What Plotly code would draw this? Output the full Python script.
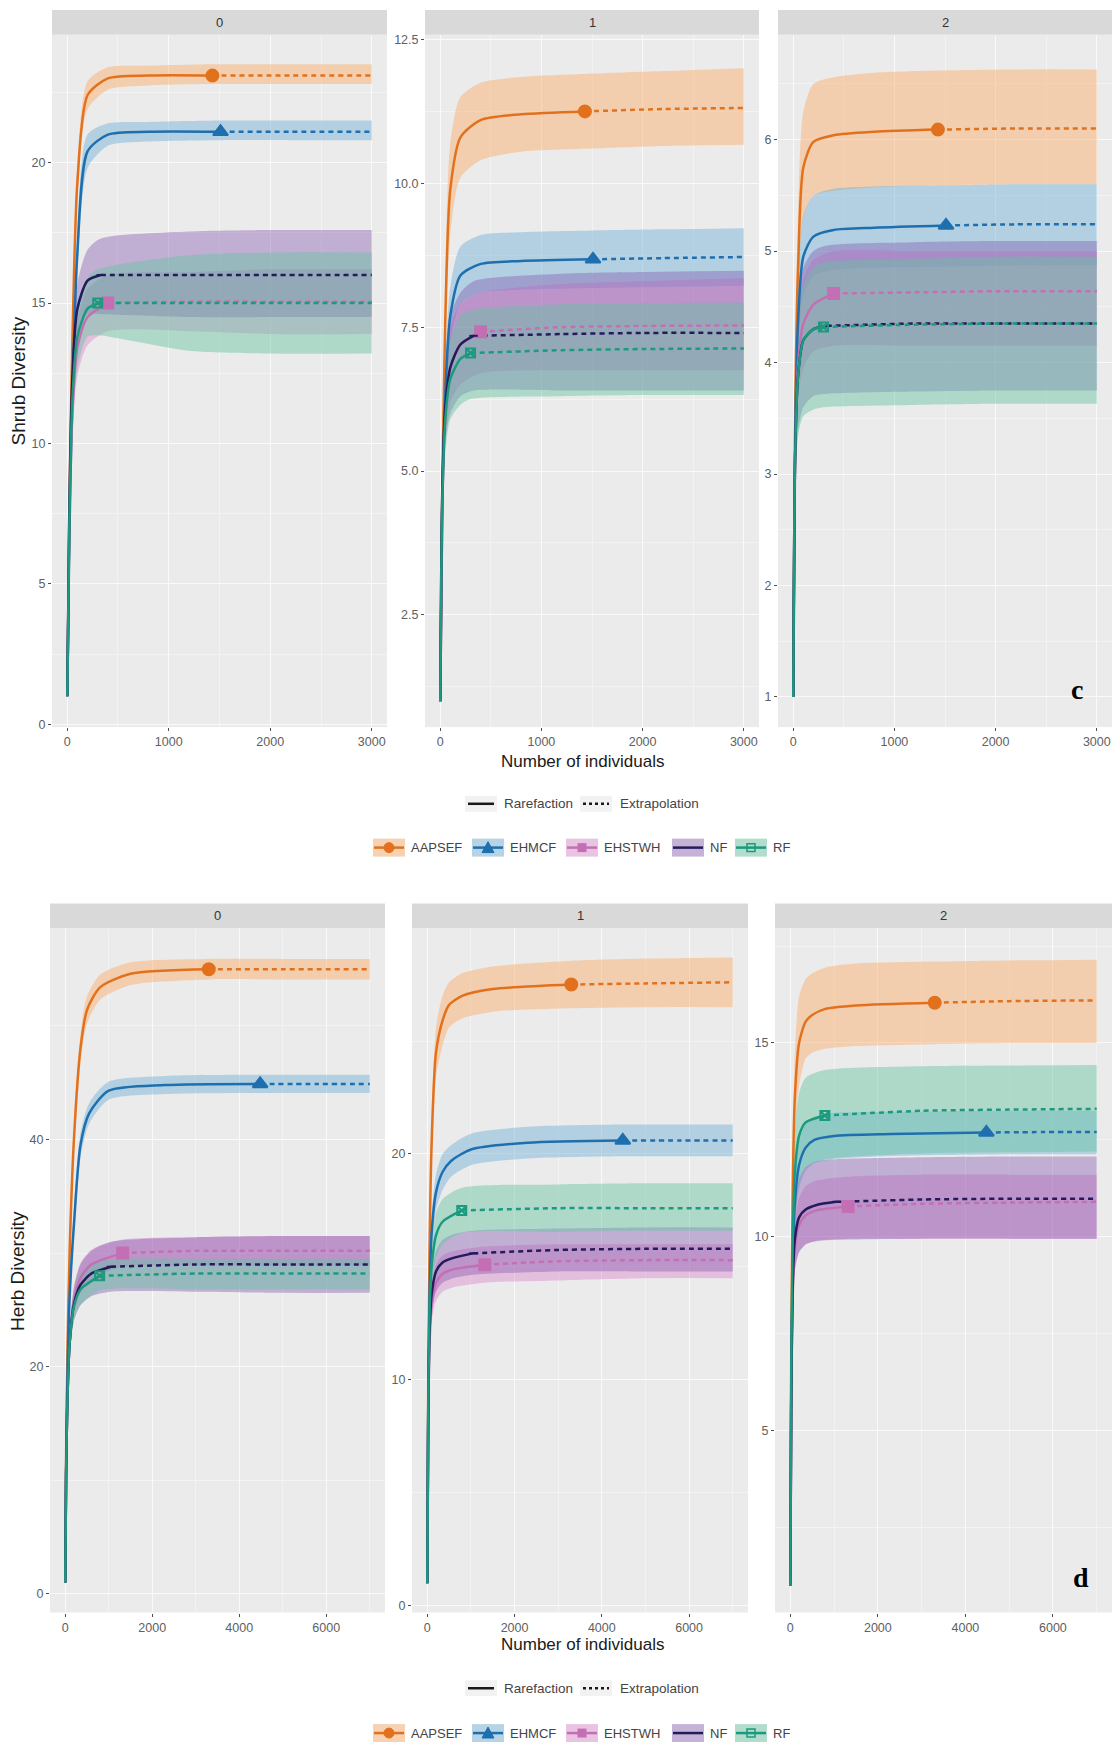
import plotly.graph_objects as go

W, H = 1120, 1753
FONT = "Liberation Sans, Arial, sans-serif"

SITES = ["AAPSEF", "EHMCF", "EHSTWH", "NF", "RF"]
LINE_COLORS = ["#E2711D", "#1F6FAF", "#C46FB4", "#241A5C", "#1C9A7E"]
FILL_COLORS = ["rgba(253,170,100,0.45)", "rgba(110,175,215,0.45)",
               "rgba(215,120,200,0.38)", "rgba(130,85,175,0.40)",
               "rgba(100,195,160,0.45)"]
MARKER_SYMBOLS = ["circle", "triangle-up", "square", "line-ew", "square-x-open"]
MARKER_SIZES = [12, 13, 11, 6, 9]

# ---------------- Shrub layer (figure c) ----------------
SHRUB_N = [1430, 1510, 400, 330, 300]
SHRUB_M = [
    [1, 20, 50, 100, 200, 400, 800, 1430, 2200, 3000],
    [1, 20, 50, 100, 200, 400, 800, 1510, 2200, 3000],
    [1, 20, 50, 100, 200, 400, 1200, 2000, 3000],
    [1, 20, 50, 100, 200, 330, 1200, 2000, 3000],
    [1, 20, 50, 100, 200, 300, 1200, 2000, 3000],
]
SHRUB_Q0_EST = [
    [1, 7.5, 13.5, 19.3, 22.4, 23.0, 23.1, 23.1, 23.1, 23.1],
    [1, 6.5, 11.5, 16.8, 20.4, 21.0, 21.1, 21.1, 21.1, 21.1],
    [1, 7.0, 11.0, 13.4, 14.5, 15.0, 15.05, 15.05, 15.05],
    [1, 7.5, 12.3, 14.8, 15.8, 16.0, 16.0, 16.0, 16.0],
    [1, 7.0, 11.5, 13.8, 14.8, 15.0, 15.0, 15.0, 15.0],
]
SHRUB_Q0_LO = [
    [1, 6.8, 12.7, 18.6, 21.9, 22.6, 22.75, 22.8, 22.8, 22.8],
    [1, 5.8, 10.6, 15.9, 19.8, 20.6, 20.75, 20.8, 20.8, 20.8],
    [1, 6.3, 10.1, 12.4, 13.5, 14.0, 14.0, 13.9, 13.9],
    [1, 6.8, 11.4, 13.9, 14.6, 14.6, 14.5, 14.5, 14.5],
    [1, 6.3, 10.5, 12.7, 13.8, 13.85, 13.3, 13.2, 13.2],
]
SHRUB_Q0_HI = [
    [1, 8.2, 14.3, 20.0, 22.9, 23.4, 23.45, 23.5, 23.5, 23.5],
    [1, 7.2, 12.4, 17.7, 21.0, 21.4, 21.45, 21.5, 21.5, 21.5],
    [1, 7.7, 11.9, 14.4, 15.5, 16.0, 16.1, 16.2, 16.2],
    [1, 8.2, 13.2, 15.7, 16.9, 17.3, 17.55, 17.6, 17.6],
    [1, 7.7, 12.5, 14.9, 15.9, 16.2, 16.7, 16.8, 16.8],
]
SHRUB_Q1_EST = [
    [1, 4.5, 7.6, 9.9, 10.8, 11.1, 11.2, 11.25, 11.29, 11.31],
    [1, 4.3, 6.3, 7.7, 8.4, 8.6, 8.65, 8.68, 8.7, 8.72],
    [1, 4.3, 5.9, 6.8, 7.2, 7.42, 7.5, 7.52, 7.53],
    [1, 4.6, 6.1, 6.8, 7.2, 7.35, 7.38, 7.4, 7.4],
    [1, 4.4, 5.9, 6.6, 6.95, 7.05, 7.1, 7.12, 7.13],
]
SHRUB_Q1_LO = [
    [1, 3.9, 6.9, 9.1, 10.1, 10.4, 10.55, 10.6, 10.65, 10.67],
    [1, 3.9, 5.8, 7.2, 7.9, 8.1, 8.15, 8.18, 8.2, 8.22],
    [1, 4.0, 5.4, 6.2, 6.5, 6.7, 6.75, 6.75, 6.75],
    [1, 4.2, 5.5, 6.0, 6.3, 6.4, 6.4, 6.4, 6.4],
    [1, 4.0, 5.3, 5.9, 6.15, 6.25, 6.3, 6.32, 6.32],
]
SHRUB_Q1_HI = [
    [1, 5.1, 8.3, 10.7, 11.5, 11.75, 11.85, 11.9, 11.95, 12.0],
    [1, 4.7, 6.8, 8.2, 8.9, 9.1, 9.15, 9.18, 9.2, 9.22],
    [1, 4.6, 6.5, 7.5, 7.9, 8.1, 8.25, 8.3, 8.35],
    [1, 5.0, 6.8, 7.7, 8.1, 8.3, 8.43, 8.46, 8.48],
    [1, 4.8, 6.5, 7.3, 7.7, 7.8, 7.9, 7.92, 7.93],
]
SHRUB_Q2_EST = [
    [1, 3.6, 4.9, 5.75, 5.98, 6.04, 6.07, 6.09, 6.1, 6.1],
    [1, 3.4, 4.4, 4.95, 5.13, 5.19, 5.21, 5.23, 5.24, 5.24],
    [1, 3.2, 4.0, 4.35, 4.52, 4.62, 4.63, 4.64, 4.64],
    [1, 3.2, 3.9, 4.2, 4.3, 4.33, 4.35, 4.35, 4.35],
    [1, 3.2, 3.9, 4.2, 4.3, 4.32, 4.34, 4.35, 4.35],
]
SHRUB_Q2_LO = [
    [1, 3.3, 4.5, 5.3, 5.5, 5.54, 5.57, 5.59, 5.6, 5.6],
    [1, 3.2, 4.1, 4.6, 4.78, 4.83, 4.85, 4.86, 4.87, 4.87],
    [1, 3.0, 3.7, 3.95, 4.1, 4.15, 4.15, 4.15, 4.15],
    [1, 2.9, 3.4, 3.6, 3.7, 3.72, 3.74, 3.75, 3.75],
    [1, 2.9, 3.35, 3.52, 3.58, 3.6, 3.62, 3.63, 3.63],
]
SHRUB_Q2_HI = [
    [1, 3.9, 5.4, 6.25, 6.5, 6.56, 6.6, 6.62, 6.63, 6.63],
    [1, 3.6, 4.75, 5.32, 5.5, 5.56, 5.58, 5.59, 5.6, 5.6],
    [1, 3.4, 4.35, 4.75, 4.92, 5.0, 5.0, 5.0, 5.0],
    [1, 3.5, 4.5, 4.85, 5.0, 5.05, 5.08, 5.09, 5.09],
    [1, 3.4, 4.3, 4.7, 4.85, 4.9, 4.93, 4.95, 4.95],
]

# ---------------- Herb layer (figure d) ----------------
HERB_N = [3300, 4480, 1320, 1050, 790]
HERB_M = [
    [1, 20, 50, 100, 200, 350, 500, 800, 1500, 3300, 5000, 7000],
    [1, 20, 50, 100, 200, 350, 550, 1000, 2300, 4480, 5800, 7000],
    [1, 20, 50, 100, 200, 350, 600, 1320, 3000, 5000, 7000],
    [1, 20, 50, 100, 200, 350, 600, 1050, 3000, 5000, 7000],
    [1, 20, 50, 100, 200, 350, 790, 3000, 5000, 7000],
]
HERB_Q0_EST = [
    [1, 12, 21, 30, 40, 48, 51.4, 53.4, 54.6, 55.0, 55.0, 55.0],
    [1, 11, 19, 26, 32.5, 39.5, 42.3, 44.3, 44.8, 44.9, 44.9, 44.9],
    [1, 10.5, 17, 22, 25.8, 27.8, 29.0, 30.0, 30.2, 30.2, 30.2],
    [1, 10.5, 17, 22, 25.5, 27.2, 28.2, 28.8, 29.0, 29.0, 29.0],
    [1, 10.5, 17, 22, 25.3, 26.8, 28.0, 28.2, 28.2, 28.2],
]
HERB_Q0_LO = [
    [1, 11.2, 19.8, 28.6, 38.5, 46.7, 50.2, 52.3, 53.6, 54.1, 54.1, 54.1],
    [1, 10.4, 18, 24.8, 31.2, 38.4, 41.4, 43.5, 44.0, 44.1, 44.1, 44.1],
    [1, 10, 16.2, 21, 24.6, 26.5, 27.7, 28.8, 28.9, 28.9, 28.9],
    [1, 10, 16.2, 20.8, 24, 25.4, 26.2, 26.6, 26.6, 26.5, 26.5],
    [1, 10, 16.2, 21, 24.1, 25.4, 26.7, 26.8, 26.8, 26.8],
]
HERB_Q0_HI = [
    [1, 12.8, 22.2, 31.4, 41.5, 49.3, 52.6, 54.5, 55.6, 55.9, 55.9, 55.9],
    [1, 11.6, 20, 27.2, 33.8, 40.6, 43.2, 45.1, 45.6, 45.7, 45.7, 45.7],
    [1, 11, 17.8, 23, 27, 29.1, 30.3, 31.2, 31.4, 31.5, 31.5],
    [1, 11, 17.8, 23.2, 27, 29, 30.2, 31.0, 31.4, 31.5, 31.5],
    [1, 11, 17.8, 23, 26.5, 28.2, 29.3, 29.5, 29.5, 29.5],
]
HERB_Q1_EST = [
    [1, 9, 15.5, 20.5, 24.5, 25.9, 26.6, 27.0, 27.3, 27.5, 27.55, 27.6],
    [1, 8.5, 13.5, 16.5, 18.3, 19.2, 19.7, 20.2, 20.5, 20.6, 20.6, 20.6],
    [1, 7.5, 11.5, 13.3, 14.3, 14.7, 14.9, 15.1, 15.25, 15.3, 15.3],
    [1, 7.8, 12, 13.8, 14.8, 15.2, 15.4, 15.6, 15.75, 15.8, 15.8],
    [1, 8.2, 12.8, 15.0, 16.4, 17.0, 17.5, 17.6, 17.6, 17.6],
]
HERB_Q1_LO = [
    [1, 8.4, 14.5, 19.3, 23.4, 24.8, 25.6, 26.0, 26.3, 26.45, 26.5, 26.5],
    [1, 8, 12.8, 15.7, 17.5, 18.4, 19.0, 19.5, 19.8, 19.9, 19.9, 19.9],
    [1, 7.1, 10.9, 12.6, 13.5, 13.9, 14.1, 14.3, 14.4, 14.5, 14.5],
    [1, 7.4, 11.3, 13.0, 13.9, 14.3, 14.5, 14.65, 14.8, 14.8, 14.8],
    [1, 7.7, 12.0, 14.0, 15.4, 16.0, 16.5, 16.55, 16.6, 16.6],
]
HERB_Q1_HI = [
    [1, 9.6, 16.5, 21.7, 25.6, 27.0, 27.6, 28.0, 28.3, 28.55, 28.65, 28.7],
    [1, 9, 14.2, 17.3, 19.1, 20.0, 20.4, 20.9, 21.2, 21.3, 21.3, 21.3],
    [1, 7.9, 12.1, 14.0, 15.1, 15.5, 15.7, 15.9, 16.0, 16.0, 16.0],
    [1, 8.2, 12.7, 14.6, 15.7, 16.2, 16.45, 16.6, 16.7, 16.75, 16.75],
    [1, 8.7, 13.6, 16.0, 17.4, 18.0, 18.5, 18.65, 18.7, 18.7],
]
HERB_Q2_EST = [
    [1, 6.5, 10.8, 13.5, 15.0, 15.55, 15.72, 15.88, 15.97, 16.04, 16.08, 16.1],
    [1, 5.8, 9.0, 10.8, 11.85, 12.3, 12.5, 12.6, 12.65, 12.69, 12.7, 12.7],
    [1, 5.5, 8.3, 9.7, 10.3, 10.55, 10.68, 10.78, 10.85, 10.88, 10.9],
    [1, 5.6, 8.5, 9.9, 10.5, 10.7, 10.82, 10.9, 10.96, 10.98, 10.98],
    [1, 6.2, 9.6, 11.6, 12.6, 12.95, 13.13, 13.25, 13.28, 13.3],
]
HERB_Q2_LO = [
    [1, 6.1, 10.0, 12.4, 13.9, 14.6, 14.75, 14.85, 14.92, 14.97, 15.0, 15.0],
    [1, 5.5, 8.5, 10.2, 11.25, 11.7, 11.9, 12.0, 12.08, 12.12, 12.13, 12.13],
    [1, 5.2, 7.8, 9.1, 9.6, 9.8, 9.9, 9.95, 9.95, 9.95, 9.95],
    [1, 5.2, 7.8, 9.1, 9.6, 9.8, 9.88, 9.92, 9.95, 9.95, 9.95],
    [1, 5.8, 8.8, 10.6, 11.5, 11.8, 12.0, 12.15, 12.18, 12.2],
]
HERB_Q2_HI = [
    [1, 6.9, 11.6, 14.6, 16.2, 16.65, 16.8, 16.95, 17.05, 17.1, 17.13, 17.15],
    [1, 6.1, 9.5, 11.4, 12.45, 12.9, 13.1, 13.2, 13.22, 13.25, 13.25, 13.25],
    [1, 5.8, 8.8, 10.3, 11.0, 11.3, 11.45, 11.55, 11.6, 11.6, 11.6],
    [1, 6.0, 9.2, 10.8, 11.5, 11.8, 11.95, 12.0, 12.05, 12.07, 12.07],
    [1, 6.6, 10.4, 12.6, 13.7, 14.1, 14.3, 14.4, 14.42, 14.43],
]

LINETYPE_LABELS = ["Rarefaction", "Extrapolation"]


def fx(px):
    return px / W


def fy(py):
    return 1 - py / H


# Facet geometry in pixels
TOP_X_PX = [(52, 387), (425, 759), (778, 1112)]
TOP_Y_PX = (33, 728)
TOP_STRIP = (8, 33)
BOT_X_PX = [(50, 385), (412, 748), (775, 1112)]
BOT_Y_PX = (930, 1617)
BOT_STRIP = (905, 930)

panels = [
    dict(m=SHRUB_M, n=SHRUB_N, est=SHRUB_Q0_EST, lo=SHRUB_Q0_LO, hi=SHRUB_Q0_HI,
         xpx=TOP_X_PX[0], ypx=TOP_Y_PX, strip=TOP_STRIP, label="0",
         yr=[-0.1, 24.55], yt0=0, ydt=5, ymin=2.5, yfmt="d",
         xr=[-150, 3150], xdt=1000, xmin=500),
    dict(m=SHRUB_M, n=SHRUB_N, est=SHRUB_Q1_EST, lo=SHRUB_Q1_LO, hi=SHRUB_Q1_HI,
         xpx=TOP_X_PX[1], ypx=TOP_Y_PX, strip=TOP_STRIP, label="1",
         yr=[0.55, 12.58], yt0=0, ydt=2.5, ymin=1.25, yfmt=".1f",
         xr=[-150, 3150], xdt=1000, xmin=500),
    dict(m=SHRUB_M, n=SHRUB_N, est=SHRUB_Q2_EST, lo=SHRUB_Q2_LO, hi=SHRUB_Q2_HI,
         xpx=TOP_X_PX[2], ypx=TOP_Y_PX, strip=TOP_STRIP, label="2",
         yr=[0.73, 6.94], yt0=0, ydt=1, ymin=0.5, yfmt="d",
         xr=[-150, 3150], xdt=1000, xmin=500),
    dict(m=HERB_M, n=HERB_N, est=HERB_Q0_EST, lo=HERB_Q0_LO, hi=HERB_Q0_HI,
         xpx=BOT_X_PX[0], ypx=BOT_Y_PX, strip=BOT_STRIP, label="0",
         yr=[-1.65, 58.6], yt0=0, ydt=20, ymin=10, yfmt="d",
         xr=[-350, 7350], xdt=2000, xmin=1000),
    dict(m=HERB_M, n=HERB_N, est=HERB_Q1_EST, lo=HERB_Q1_LO, hi=HERB_Q1_HI,
         xpx=BOT_X_PX[1], ypx=BOT_Y_PX, strip=BOT_STRIP, label="1",
         yr=[-0.3, 29.99], yt0=0, ydt=10, ymin=5, yfmt="d",
         xr=[-350, 7350], xdt=2000, xmin=1000),
    dict(m=HERB_M, n=HERB_N, est=HERB_Q2_EST, lo=HERB_Q2_LO, hi=HERB_Q2_HI,
         xpx=BOT_X_PX[2], ypx=BOT_Y_PX, strip=BOT_STRIP, label="2",
         yr=[0.3, 17.96], yt0=0, ydt=5, ymin=2.5, yfmt="d",
         xr=[-350, 7350], xdt=2000, xmin=1000),
]

fig = go.Figure()
shapes = []
annotations = []
layout_axes = {}
LINE_W = 2.5
DASH = "5px,4px"
SPL = dict(shape="spline", smoothing=0.7)


def note(x, y, text, size=12, color="#444444", xanchor="center", family=FONT, angle=0):
    annotations.append(dict(x=fx(x), y=fy(y), xref="paper", yref="paper", text=text,
                            xanchor=xanchor, yanchor="middle", showarrow=False, textangle=angle,
                            font=dict(family=family, size=size, color=color)))


for i, p in enumerate(panels, start=1):
    xa, ya = f"x{i}", f"y{i}"
    xkey = "xaxis" if i == 1 else f"xaxis{i}"
    ykey = "yaxis" if i == 1 else f"yaxis{i}"
    tickfont = dict(family=FONT, size=12.5, color="#606060")
    layout_axes[xkey] = dict(
        domain=[fx(p["xpx"][0]), fx(p["xpx"][1])], anchor=ya, range=p["xr"],
        tickmode="linear", tick0=0, dtick=p["xdt"], ticks="outside", ticklen=3,
        tickcolor="#4D4D4D", tickfont=tickfont, showgrid=True, gridcolor="#FAFAFA",
        gridwidth=1.1, zeroline=False, showline=False,
        minor=dict(dtick=p["xmin"], tick0=0, showgrid=True, gridcolor="#F3F3F3", gridwidth=0.6),
    )
    layout_axes[ykey] = dict(
        domain=[fy(p["ypx"][1]), fy(p["ypx"][0])], anchor=xa, range=p["yr"],
        tickmode="linear", tick0=p["yt0"], dtick=p["ydt"], tickformat=p["yfmt"],
        ticks="outside", ticklen=3, tickcolor="#4D4D4D", tickfont=tickfont,
        showgrid=True, gridcolor="#FAFAFA", gridwidth=1.1, zeroline=False, showline=False,
        minor=dict(dtick=p["ymin"], tick0=0, showgrid=True, gridcolor="#F3F3F3", gridwidth=0.6),
    )

    # confidence ribbons
    for s in range(len(SITES)):
        fig.add_trace(go.Scatter(x=p["m"][s], y=p["lo"][s], xaxis=xa, yaxis=ya, mode="lines",
                                 line=dict(width=0, **SPL), hoverinfo="skip", showlegend=False))
        fig.add_trace(go.Scatter(x=p["m"][s], y=p["hi"][s], xaxis=xa, yaxis=ya, mode="lines",
                                 line=dict(width=0, **SPL), fill="tonexty",
                                 fillcolor=FILL_COLORS[s], hoverinfo="skip", showlegend=False))
    # rarefaction (solid) and extrapolation (dashed) curves
    for s in range(len(SITES)):
        k = p["m"][s].index(p["n"][s])
        fig.add_trace(go.Scatter(x=p["m"][s][:k + 1], y=p["est"][s][:k + 1], xaxis=xa, yaxis=ya,
                                 mode="lines", line=dict(color=LINE_COLORS[s], width=LINE_W, **SPL),
                                 name=SITES[s], showlegend=False))
        fig.add_trace(go.Scatter(x=p["m"][s][k:], y=p["est"][s][k:], xaxis=xa, yaxis=ya,
                                 mode="lines", line=dict(color=LINE_COLORS[s], width=LINE_W,
                                                         dash=DASH, **SPL),
                                 name=SITES[s], showlegend=False))
    # observed sample markers
    for s in range(len(SITES)):
        k = p["m"][s].index(p["n"][s])
        fig.add_trace(go.Scatter(x=[p["n"][s]], y=[p["est"][s][k]], xaxis=xa, yaxis=ya,
                                 mode="markers",
                                 marker=dict(symbol=MARKER_SYMBOLS[s], size=MARKER_SIZES[s],
                                             color=LINE_COLORS[s],
                                             line=dict(color=LINE_COLORS[s], width=2)),
                                 name=SITES[s], showlegend=False))

    # facet strip
    x0, x1 = p["xpx"]
    s0, s1 = p["strip"]
    shapes.append(dict(type="rect", xref="paper", yref="paper", x0=fx(x0), x1=fx(x1),
                       y0=fy(s1), y1=fy(s0), fillcolor="#D9D9D9", line=dict(width=0)))
    note((x0 + x1) / 2, (s0 + s1) / 2, p["label"], size=13, color="#333333")

# axis titles
for ty in (763, 1649):
    note(582, ty, "Number of individuals", size=17, color="#1A1A1A")
note(18, 381, "Shrub Diversity", size=19, color="#1A1A1A", angle=-90)
note(18, 1274, "Herb Diversity", size=19, color="#1A1A1A", angle=-90)

# figure part letters
SERIF = "Liberation Serif, Times New Roman, serif"
note(1077, 690, "<b>c</b>", size=28, color="black", family=SERIF)
note(1081, 1582, "<b>d</b>", size=28, color="black", family=SERIF)


def prect(x0, y0, x1, y1, fill, line=None):
    shapes.append(dict(type="rect", xref="paper", yref="paper", x0=fx(x0), x1=fx(x1),
                       y0=fy(y1), y1=fy(y0), fillcolor=fill,
                       line=line if line else dict(width=0)))


def pline(x0, y0, x1, y1, color, width, dash="solid"):
    shapes.append(dict(type="line", xref="paper", yref="paper", x0=fx(x0), x1=fx(x1),
                       y0=fy(y0), y1=fy(y1), line=dict(color=color, width=width, dash=dash)))


def key_marker(s, cx, cy):
    c = LINE_COLORS[s]
    if s == 0:
        shapes.append(dict(type="circle", xref="paper", yref="paper", x0=fx(cx - 5), x1=fx(cx + 5),
                           y0=fy(cy + 5), y1=fy(cy - 5), fillcolor=c, line=dict(color=c, width=1)))
    elif s == 1:
        path = f"M {fx(cx - 6)},{fy(cy + 5)} L {fx(cx + 6)},{fy(cy + 5)} L {fx(cx)},{fy(cy - 6)} Z"
        shapes.append(dict(type="path", xref="paper", yref="paper", path=path,
                           fillcolor=c, line=dict(color=c, width=1)))
    elif s == 2:
        prect(cx - 4.5, cy - 4.5, cx + 4.5, cy + 4.5, c)
    elif s == 4:
        shapes.append(dict(type="rect", xref="paper", yref="paper", x0=fx(cx - 4), x1=fx(cx + 4),
                           y0=fy(cy + 4), y1=fy(cy - 4), fillcolor="rgba(0,0,0,0)",
                           line=dict(color=c, width=1.5)))


def legends(y_type, y_site):
    # line type legend
    prect(465, y_type - 8, 497, y_type + 8, "#F2F2F2")
    pline(468, y_type, 494, y_type, "#1A1A1A", 2.5)
    note(502, y_type, LINETYPE_LABELS[0], size=13.5, xanchor="left")
    prect(580, y_type - 8, 612, y_type + 8, "#F2F2F2")
    pline(583, y_type, 609, y_type, "#1A1A1A", 2.5, dash="dot")
    note(618, y_type, LINETYPE_LABELS[1], size=13.5, xanchor="left")
    # site legend
    key_x = [373, 472, 566, 672, 735]
    txt_x = [409, 508, 602, 708, 771]
    for s in range(len(SITES)):
        kx = key_x[s]
        prect(kx, y_site - 9, kx + 32, y_site + 9, "#F2F2F2")
        prect(kx, y_site - 9, kx + 32, y_site + 9, FILL_COLORS[s])
        pline(kx + 1, y_site, kx + 31, y_site, LINE_COLORS[s], 2.5)
        key_marker(s, kx + 16, y_site)
        note(txt_x[s], y_site, SITES[s], size=13, xanchor="left")


legends(805, 849)
legends(1693, 1738)

fig.update_layout(
    width=W, height=H, margin=dict(l=0, r=0, t=0, b=0),
    paper_bgcolor="white", plot_bgcolor="#EBEBEB", showlegend=False,
    shapes=shapes, annotations=annotations, **layout_axes,
)

fig.write_html("out.html")
